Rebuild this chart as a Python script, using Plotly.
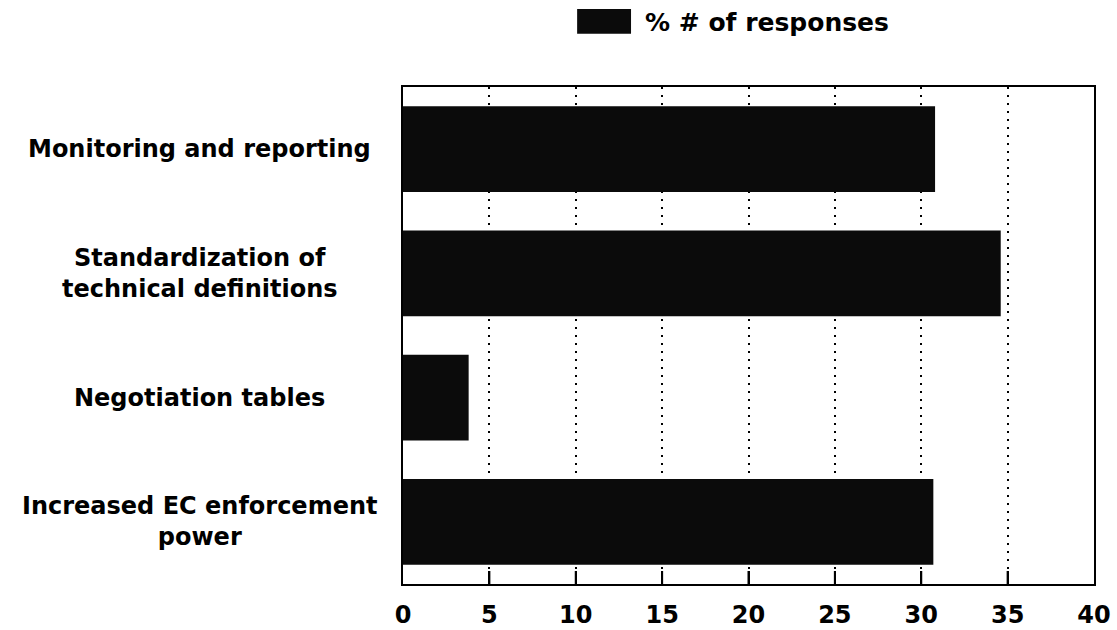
import plotly.graph_objects as go

# Survey results: share of responses per proposed measure
measures = [
    "Monitoring and reporting",
    "Standardization of<br>technical definitions",
    "Negotiation tables",
    "Increased EC enforcement<br>power",
]
pct_responses = [30.8, 34.6, 3.8, 30.7]
series_name = "% # of responses"
x_ticks = [0, 5, 10, 15, 20, 25, 30, 35, 40]

FONT = dict(family="DejaVu Sans", size=24, color="black", weight="bold")
BAR_COLOR = "#0b0b0b"
PLOT_H = 630 - 87 - 46  # plot area height in px

fig = go.Figure()
fig.add_trace(
    go.Bar(
        y=list(range(len(measures))),
        x=pct_responses,
        orientation="h",
        name=series_name,
        marker=dict(color=BAR_COLOR, line=dict(width=0)),
        showlegend=False,
    )
)

# Category labels, centred in the left margin
for i, label in enumerate(measures):
    fig.add_annotation(
        x=-0.294, xref="paper", xanchor="center",
        y=i, yref="y", yanchor="middle",
        text=label, showarrow=False, align="center",
        font=FONT,
    )

# Short solid tick marks rising from the bottom axis
for v in x_ticks[1:-1]:
    fig.add_shape(
        type="line", xref="x", yref="paper",
        x0=v, x1=v, y0=0, y1=13 / PLOT_H,
        line=dict(color="black", width=2), layer="above",
    )

# Legend key drawn above the plot
fig.add_shape(
    type="rect", xref="paper", yref="paper",
    x0=0.252, x1=0.330, y0=1.107, y1=1.157,
    fillcolor=BAR_COLOR, line=dict(width=0),
)
fig.add_annotation(
    x=0.347, xref="paper", xanchor="left",
    y=1.129, yref="paper", yanchor="middle",
    text=series_name, showarrow=False, font={**FONT, "size": 25},
)

fig.update_layout(
    width=1117, height=630,
    margin=dict(l=403, r=23, t=87, b=46, autoexpand=False),
    paper_bgcolor="white", plot_bgcolor="white",
    bargap=0.31,
    font=FONT,
)
fig.update_xaxes(
    range=[0, 40], tickvals=x_ticks, ticktext=[str(v) for v in x_ticks],
    ticks="inside", ticklen=13, tickwidth=2, tickcolor="black",
    ticklabelstandoff=8,
    showline=True, linewidth=2, linecolor="black", mirror=True,
    showgrid=True, gridcolor="black", gridwidth=1.5, griddash="2px,6px",
    zeroline=False, tickfont=FONT, automargin=False,
)
fig.update_yaxes(
    range=[len(measures) - 0.5, -0.5],
    showticklabels=False, ticks="",
    showline=True, linewidth=2, linecolor="black", mirror=True,
    showgrid=False, zeroline=False, automargin=False,
)

fig.write_html("out.html")
